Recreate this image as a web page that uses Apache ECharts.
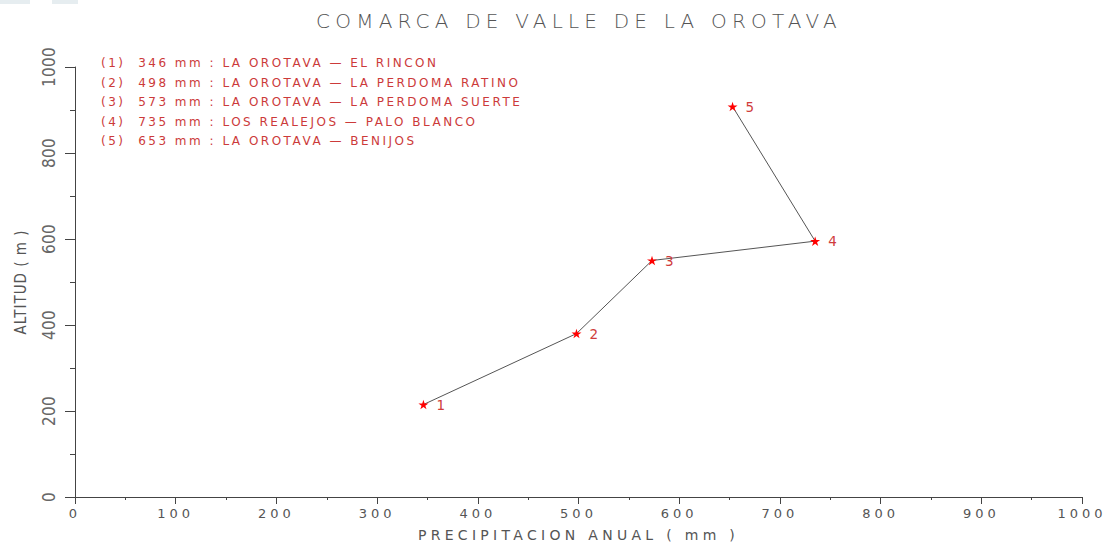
<!DOCTYPE html>
<html><head><meta charset="utf-8">
<script src="https://cdn.jsdelivr.net/npm/echarts@6/dist/echarts.min.js"></script>
<style>
html,body{margin:0;padding:0;background:#fff}
#chart{width:1112px;height:544px}
#chart text{white-space:pre}
#chart text[style*="20px"]{letter-spacing:5.2px}
#chart text[style*="12px"]{letter-spacing:2.5px}
#chart text[style*="13px"]{letter-spacing:4px}
#chart text[style*="14px"]{letter-spacing:4.3px}
#chart text[style*="17px"]{letter-spacing:0.3px}
#chart text[style*="15px"]{letter-spacing:1px}
</style></head><body><div id="chart"></div>
<script>
const titleText = 'COMARCA DE VALLE DE LA OROTAVA';
const xAxisName = 'PRECIPITACION ANUAL ( mm )';
const yAxisName = 'ALTITUD ( m )';
const precipitation = [346, 498, 573, 735, 653];
const altitude = [215, 380, 550, 595, 908];
const pointLabels = ['1', '2', '3', '4', '5'];
const stations = [
  'LA OROTAVA \u2014 EL RINCON',
  'LA OROTAVA \u2014 LA PERDOMA RATINO',
  'LA OROTAVA \u2014 LA PERDOMA SUERTE',
  'LOS REALEJOS \u2014 PALO BLANCO',
  'LA OROTAVA \u2014 BENIJOS'
];
const xTickValues = [0, 100, 200, 300, 400, 500, 600, 700, 800, 900, 1000];
const yTickValues = [0, 200, 400, 600, 800, 1000];

const FONT = "'DejaVu Sans', sans-serif";
const NARROW = "'Liberation Sans Narrow', 'DejaVu Sans Condensed', sans-serif";
const STAR = 'path://M50 0 L61.17 34.63 L97.55 34.55 L68.07 55.87 L79.39 90.45 L50 69 L20.61 90.45 L31.93 55.87 L2.45 34.55 L38.83 34.63 Z';

const chart = echarts.init(document.getElementById('chart'), null, {renderer: 'svg'});

const legendGraphics = stations.map((s, i) => ({
  type: 'text',
  x: 101,
  y: 63 + i * 19.6,
  style: {
    text: '(' + pointLabels[i] + ')  ' + precipitation[i] + ' mm : ' + s,
    fill: '#cc3a3a',
    fontSize: 12,
    fontFamily: FONT,
    align: 'left',
    verticalAlign: 'middle'
  }
}));

chart.setOption({
  animation: false,
  backgroundColor: '#ffffff',
  title: {
    text: titleText,
    left: 574,
    top: 6,
    textAlign: 'center',
    textStyle: {color: '#555', fontSize: 20, fontWeight: 200, fontFamily: FONT}
  },
  grid: {left: 75, right: 30, top: 67, bottom: 47, containLabel: false, outerBoundsMode: 'none'},
  xAxis: {
    type: 'value',
    min: xTickValues[0],
    max: xTickValues[xTickValues.length - 1],
    interval: xTickValues[1] - xTickValues[0],
    name: xAxisName,
    nameLocation: 'middle',
    nameGap: 31,
    nameTextStyle: {color: '#555', fontSize: 14, fontFamily: FONT},
    axisLine: {show: true, onZero: false, lineStyle: {color: '#444', width: 1}},
    axisTick: {show: true, length: 7, lineStyle: {color: '#444'}},
    minorTick: {show: true, splitNumber: 2, length: 3, lineStyle: {color: '#444'}},
    splitLine: {show: false},
    axisLabel: {color: '#555', fontSize: 13, fontFamily: FONT, margin: 10, formatter: (v) => String(v)}
  },
  yAxis: {
    type: 'value',
    min: yTickValues[0],
    max: yTickValues[yTickValues.length - 1],
    interval: yTickValues[1] - yTickValues[0],
    name: yAxisName,
    nameLocation: 'middle',
    nameGap: 47,
    nameTextStyle: {color: '#555', fontSize: 15, fontFamily: NARROW},
    axisLine: {show: true, onZero: false, lineStyle: {color: '#444', width: 1}},
    axisTick: {show: true, length: 10, lineStyle: {color: '#444'}},
    minorTick: {show: true, splitNumber: 2, length: 5, lineStyle: {color: '#444'}},
    splitLine: {show: false},
    axisLabel: {color: '#666', fontSize: 17, fontFamily: NARROW, rotate: 90, margin: 18, formatter: (v) => String(v)}
  },
  graphic: [
    {type: 'rect', shape: {x: 0, y: 0, width: 30, height: 4}, style: {fill: '#e6edf0'}},
    {type: 'rect', shape: {x: 52, y: 0, width: 26, height: 4}, style: {fill: '#e6edf0'}}
  ].concat(legendGraphics),
  series: [{
    type: 'line',
    data: precipitation.map((p, i) => [p, altitude[i]]),
    lineStyle: {color: '#555', width: 1},
    symbol: STAR,
    symbolKeepAspect: true,
    symbolSize: 10,
    itemStyle: {color: '#ff0000'},
    label: {
      show: true,
      position: 'right',
      distance: 8,
      color: '#d03c3c',
      fontSize: 13.5,
      fontFamily: FONT,
      formatter: (p) => pointLabels[p.dataIndex]
    },
    emphasis: {disabled: true}
  }]
});
</script></body></html>
